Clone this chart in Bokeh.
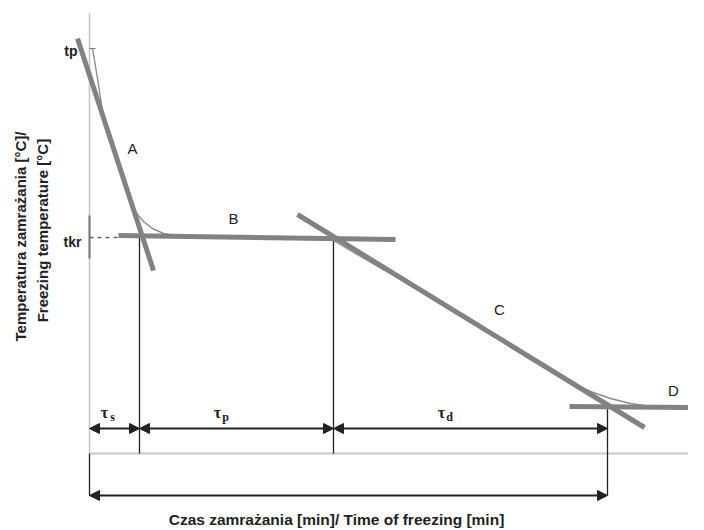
from bokeh.plotting import figure
from bokeh.models import Range1d, Arrow, NormalHead, ColumnDataSource
from bokeh.core.properties import value
from bokeh.embed import file_html
from bokeh.resources import INLINE

# ---- data (schematic units: time along x, temperature along y) ----
phase_bounds = [0, 50, 244, 518]        # start, end tau_s, end tau_p, end tau_d
t_p = 405                               # initial temperature
t_kr = 216                              # cryoscopic temperature
t_top = 441                             # top of temperature axis
t_end = 615                             # end of time axis

# tangent lines A, B, C, D
tan_A_x = [-12, 64]
tan_A_y = [415, 183]
tan_B_x = [29, 306]
tan_B_y = [218, 214]
tan_C_x = [208, 555]
tan_C_y = [239, 26]
tan_D_x = [480, 615]
tan_D_y = [47, 46]

# measured freezing curve
curve_x = [3, 8, 14, 29, 39, 44, 48, 54, 63, 74, 86, 111, 171, 221, 244, 271,
           311, 361, 411, 478, 501, 521, 541, 561, 615]
curve_y = [405, 375, 336, 290, 260, 246, 239, 232, 225, 220, 218, 217.5, 216.5,
           215.5, 213, 197, 174, 143, 113, 72, 62, 55, 50, 47, 46]

# vertical marker heights
bound_tops = [218, 215, 47]
dim_y = 25          # level of partial dimension arrows
total_y = -42       # level of total dimension arrow

segment_labels = ["A", "B", "C", "D"]
segment_lx = [43, 144, 410, 584]
segment_ly = [305, 235, 144, 63]

tau_names = ["τ", "τ", "τ"]
tau_subs = ["s", "p", "d"]
tau_lx = [15, 128, 352]
tau_ly = [41, 41, 41]

x_title = "Czas zamrażania [min]/ Time of freezing [min]"
y_title_1 = "Temperatura zamrażania [°C]/"
y_title_2 = "Freezing temperature  [°C]"

TXT = "#222222"
THICK = "#828282"
THIN = "#8c8c8c"

p = figure(width=688, height=530, x_range=Range1d(-89, 599), y_range=Range1d(-77, 453),
           output_backend="svg", toolbar_location=None, min_border=0,
           min_border_left=0, min_border_right=0, min_border_top=0, min_border_bottom=0)
p.axis.visible = False
p.grid.visible = False
p.outline_line_color = None
p.background_fill_color = "white"

# axes
p.line([0, 0], [0, t_top], line_color="#c4c4c4", line_width=1.5)
p.line([0, t_end], [0, 0], line_color="#c8c8c8", line_width=2)
p.line([0, 0], [t_kr - 21, t_kr + 22], line_color="#777777", line_width=2)
p.line([0, 6], [t_p, t_p], line_color="#777777", line_width=1.2)
p.line([0, tan_B_x[0]], [t_kr, t_kr], line_color="#666666", line_width=1.3, line_dash="4 4")

# vertical boundaries
p.line([phase_bounds[1]] * 2, [0, bound_tops[0]], line_color=TXT, line_width=1.3)
p.line([phase_bounds[2]] * 2, [0, bound_tops[1]], line_color=TXT, line_width=1.3)
p.line([phase_bounds[3]] * 2, [total_y, bound_tops[2]], line_color=TXT, line_width=1.3)
p.line([phase_bounds[0]] * 2, [total_y, 0], line_color=TXT, line_width=1.3)

# measured curve
p.line(curve_x, curve_y, line_color=THIN, line_width=1.4)

# tangents
for tx, ty in [(tan_A_x, tan_A_y), (tan_B_x, tan_B_y), (tan_C_x, tan_C_y), (tan_D_x, tan_D_y)]:
    p.line(tx, ty, line_color=THICK, line_width=5, line_cap="butt")

# dimension arrows
src = ColumnDataSource(dict(
    x0=phase_bounds[:-1] + [phase_bounds[0]],
    x1=phase_bounds[1:] + [phase_bounds[-1]],
    y=[dim_y] * 3 + [total_y],
))
head = dict(size=10, fill_color=TXT, line_color=TXT, line_width=1)
p.add_layout(Arrow(x_start="x0", y_start="y", x_end="x1", y_end="y", source=src,
                   start=NormalHead(**head), end=NormalHead(**head),
                   line_color=TXT, line_width=2))

# labels
p.text(x=segment_lx, y=segment_ly, text=segment_labels, text_font=value("Liberation Sans"),
       text_font_size="15px", text_color=TXT, text_align="center", text_baseline="middle")
p.text(x=tau_lx, y=tau_ly, text=tau_names, text_font=value("Liberation Serif"),
       text_font_size="16px", text_font_style="bold", text_color=TXT,
       text_align="center", text_baseline="middle")
p.text(x=[v + 8 for v in tau_lx], y=[v - 4 for v in tau_ly], text=tau_subs,
       text_font=value("Liberation Serif"), text_font_size="12px", text_font_style="bold",
       text_color=TXT, text_align="center", text_baseline="middle")
p.text(x=[-12, -8], y=[t_p - 2, t_kr - 4], text=["tp", "tkr"], text_font=value("Liberation Sans"),
       text_font_size="14px", text_font_style="bold", text_color=TXT,
       text_align="right", text_baseline="middle")

p.text(x=[247], y=[-66], text=[x_title], text_font=value("Liberation Sans"),
       text_font_size="15.5px", text_font_style="bold", text_color=TXT,
       text_align="center", text_baseline="middle")
p.text(x=[-69, -47], y=[217, 225], text=[y_title_1, y_title_2],
       text_font=value("Liberation Sans"), text_font_size="15px", text_font_style="bold",
       text_color=TXT, text_align="center", text_baseline="middle", angle=1.5708)

open("out.html", "w").write(file_html(p, INLINE))
